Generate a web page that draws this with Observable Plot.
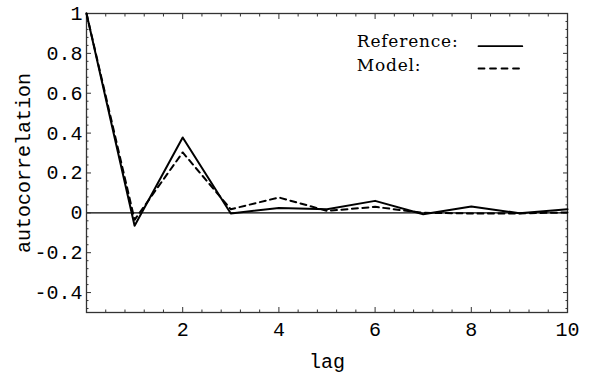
<!DOCTYPE html>
<html>
<head>
<meta charset="utf-8">
<script src="https://cdn.jsdelivr.net/npm/d3@7"></script>
<script src="https://cdn.jsdelivr.net/npm/@observablehq/plot@0.6"></script>
<style>
  html, body { margin: 0; padding: 0; background: #fff; }
</style>
</head>
<body>
<div id="chart"></div>
<script>
// ---- data ----
const lags = [0, 1, 2, 3, 4, 5, 6, 7, 8, 9, 10];
const reference = [1, -0.065, 0.378, -0.003, 0.024, 0.018, 0.06, -0.007, 0.032, -0.002, 0.018];
const model = [1, -0.035, 0.303, 0.018, 0.077, 0.01, 0.03, 0, -0.003, -0.003, 0.002];
const xTicks = [2, 4, 6, 8, 10];
const yTicks = [-0.4, -0.2, 0, 0.2, 0.4, 0.6, 0.8, 1];
const xLabel = "lag";
const yLabel = "autocorrelation";
const seriesNames = ["Reference:", "Model:"];

// ---- derived tables ----
const refData = lags.map((l, i) => ({lag: l, value: reference[i]}));
const modData = lags.map((l, i) => ({lag: l, value: model[i]}));
const xMinor = d3.range(0, 10.001, 0.4).map(v => +v.toFixed(2)).filter(v => !xTicks.includes(v));
const yMinor = d3.range(-0.48, 1.001, 0.04).map(v => +v.toFixed(2)).filter(v => !yTicks.some(t => Math.abs(t - v) < 1e-9));

// legend layout (data units)
const legendTextX = 5.62;
const legendY = [0.857, 0.738];
const legendLineX = [8.15, 9.06];
const legendLineY = [0.836, 0.724];

const fmt = d => d === 0 ? "0" : d === 1 ? "1" : String(d);
const mono = "'Liberation Mono', 'DejaVu Sans Mono', monospace";
const serif = "'DejaVu Serif', 'Liberation Serif', serif";
const fs = 20;

const chart = Plot.plot({
  width: 590,
  height: 373,
  marginLeft: 86,
  marginRight: 23,
  marginTop: 13,
  marginBottom: 61,
  style: {fontFamily: mono, fontSize: fs + "px", color: "black", background: "white"},
  x: {domain: [0, 10]},
  y: {domain: [-0.5, 1]},
  marks: [
    Plot.ruleY([0], {stroke: "black", strokeWidth: 1.2}),
    // major ticks with labels
    Plot.axisX(xTicks, {anchor: "bottom", tickSize: -5, tickPadding: 14, tickFormat: fmt, label: null, stroke: "#333", fontSize: fs}),
    Plot.axisY(yTicks, {anchor: "left", tickSize: -5, tickPadding: 9, tickFormat: fmt, label: null, stroke: "#333", fontSize: fs}),
    Plot.axisX(xTicks, {anchor: "top", tickSize: -5, tickFormat: () => "", label: null, stroke: "#333"}),
    Plot.axisY(yTicks, {anchor: "right", tickSize: -5, tickFormat: () => "", label: null, stroke: "#333"}),
    // minor ticks
    Plot.axisX(xMinor, {anchor: "bottom", tickSize: -2.5, tickFormat: () => "", label: null, stroke: "#333"}),
    Plot.axisX(xMinor, {anchor: "top", tickSize: -2.5, tickFormat: () => "", label: null, stroke: "#333"}),
    Plot.axisY(yMinor, {anchor: "left", tickSize: -2.5, tickFormat: () => "", label: null, stroke: "#333"}),
    Plot.axisY(yMinor, {anchor: "right", tickSize: -2.5, tickFormat: () => "", label: null, stroke: "#333"}),
    Plot.frame({stroke: "#333", strokeWidth: 1.3}),
    // axis titles
    Plot.text([xLabel], {frameAnchor: "bottom", textAnchor: "middle", lineAnchor: "bottom", dy: 55, fontFamily: mono, fontSize: fs, fill: "black"}),
    Plot.text([yLabel], {frameAnchor: "left", textAnchor: "middle", lineAnchor: "middle", dx: -63, rotate: -90, fontFamily: mono, fontSize: fs, fill: "black"}),
    // data lines
    Plot.line(modData, {x: "lag", y: "value", stroke: "black", strokeWidth: 2, strokeDasharray: "6,4.5"}),
    Plot.line(refData, {x: "lag", y: "value", stroke: "black", strokeWidth: 2}),
    // legend
    Plot.text(seriesNames, {x: () => legendTextX, y: (d, i) => legendY[i], textAnchor: "start", fontFamily: serif, fontSize: 17, fill: "black"}),
    Plot.line(legendLineX.map(x => ({x, y: legendLineY[0]})), {x: "x", y: "y", stroke: "black", strokeWidth: 1.8}),
    Plot.line(legendLineX.map(x => ({x, y: legendLineY[1]})), {x: "x", y: "y", stroke: "black", strokeWidth: 1.8, strokeDasharray: "6,5.5"})
  ]
});
chart.querySelectorAll("text").forEach(t => { if (seriesNames.includes(t.textContent)) t.style.letterSpacing = "0.8px"; });
document.getElementById("chart").appendChild(chart);
</script>
</body>
</html>
